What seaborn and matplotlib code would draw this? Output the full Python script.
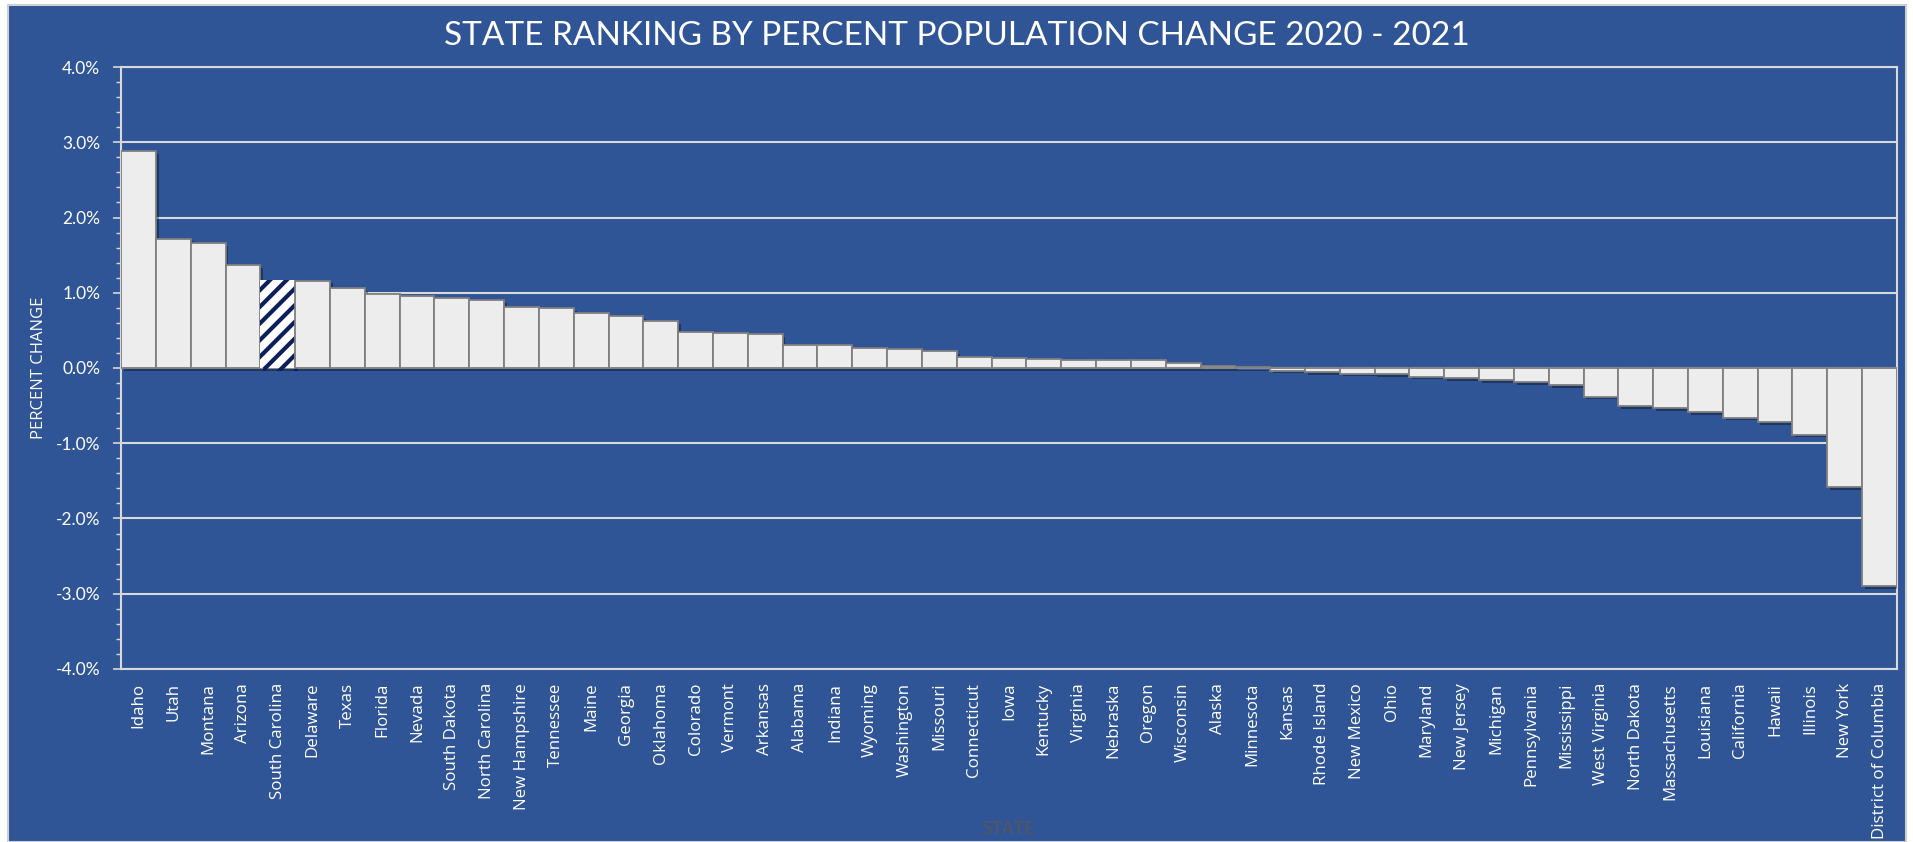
import matplotlib
matplotlib.use("Agg")
import matplotlib.pyplot as plt
import matplotlib.patheffects as pe
from matplotlib.patches import Rectangle
from matplotlib.ticker import MultipleLocator, FuncFormatter
import seaborn as sns

# data (percent change 2020 -> 2021)
states = ["Idaho", "Utah", "Montana", "Arizona", "South Carolina", "Delaware", "Texas",
          "Florida", "Nevada", "South Dakota", "North Carolina", "New Hampshire", "Tennessee",
          "Maine", "Georgia", "Oklahoma", "Colorado", "Vermont", "Arkansas", "Alabama",
          "Indiana", "Wyoming", "Washington", "Missouri", "Connecticut", "Iowa", "Kentucky",
          "Virginia", "Nebraska", "Oregon", "Wisconsin", "Alaska", "Minnesota", "Kansas",
          "Rhode Island", "New Mexico", "Ohio", "Maryland", "New Jersey", "Michigan",
          "Pennsylvania", "Mississippi", "West Virginia", "North Dakota", "Massachusetts",
          "Louisiana", "California", "Hawaii", "Illinois", "New York", "District of Columbia"]
pct_change = [2.88, 1.72, 1.66, 1.37, 1.17, 1.16, 1.06,
              0.99, 0.96, 0.93, 0.90, 0.81, 0.80,
              0.73, 0.69, 0.62, 0.48, 0.47, 0.45, 0.30,
              0.30, 0.26, 0.25, 0.22, 0.15, 0.13, 0.115,
              0.11, 0.105, 0.10, 0.06, 0.03, 0.01, -0.035,
              -0.05, -0.075, -0.085, -0.115, -0.13, -0.16,
              -0.19, -0.23, -0.38, -0.51, -0.53,
              -0.59, -0.66, -0.72, -0.885, -1.58, -2.90]
highlight = "South Carolina"

bg = "#2F5597"
bar_fill = "#EDEDED"
bar_edge = "#7F7F7F"
grid_col = "#D9D9D9"

plt.rcParams["hatch.linewidth"] = 3.0

fig = plt.figure(figsize=(19.13, 8.42), dpi=100, facecolor="white")
fig.patches.append(Rectangle((8 / 1913, 0), 1898 / 1913, 1 - 5 / 842,
                             transform=fig.transFigure, facecolor=bg,
                             edgecolor="#D0D0D0", linewidth=1.5, zorder=-10))
ax = fig.add_axes([0.0633, 0.2055, 0.9283, 0.7149])
ax.set_facecolor(bg)

sns.barplot(x=states, y=pct_change, color=bar_fill, saturation=1, width=1.0,
            edgecolor=bar_edge, linewidth=1.3, ax=ax, zorder=3)

shadow = [pe.SimplePatchShadow(offset=(2, -2), shadow_rgbFace="black", alpha=0.35), pe.Normal()]
for name, bar in zip(states, ax.patches):
    bar.set_path_effects(shadow)
    if name == highlight:
        bar.set_facecolor("white")
        bar.set_hatch("//")
        bar.set_edgecolor("#0B1F5C")
        bar.set_linewidth(0)

ax.set_ylim(-4, 4)
ax.set_xlim(-0.5, len(states) - 0.5)
ax.yaxis.set_major_locator(MultipleLocator(1))
ax.yaxis.set_minor_locator(MultipleLocator(0.2))
ax.yaxis.set_major_formatter(FuncFormatter(lambda v, _: f"{v:.1f}%"))
ax.set_axisbelow(True)
ax.grid(axis="y", which="major", color=grid_col, linewidth=1.5)
ax.grid(axis="x", visible=False)

for side in ["left", "right", "top", "bottom"]:
    ax.spines[side].set_color(grid_col)
    ax.spines[side].set_linewidth(1.5)

ax.tick_params(axis="y", which="major", length=6, width=1.2, color=grid_col,
               labelcolor="white", labelsize=12.5, pad=9)
ax.tick_params(axis="y", which="minor", length=3.5, width=1.0, color=grid_col)
ax.tick_params(axis="x", length=0, labelcolor="white", labelsize=12.2, pad=10)
for lbl in ax.get_yticklabels():
    lbl.set_family("Lato")
for lbl in ax.get_xticklabels():
    lbl.set_rotation(90)
    lbl.set_family("Open Sans")

ax.set_ylabel("PERCENT CHANGE", color="white", fontsize=12, family="Open Sans")
ax.yaxis.set_label_coords(-0.0417, 0.5)
ax.set_xlabel("STATE", color="#575757", fontsize=12.7, family="Lato")
ax.xaxis.set_label_coords(0.5, -0.2525)

fig.text(0.5, 1 - 36 / 842, "STATE RANKING BY PERCENT POPULATION CHANGE 2020 - 2021",
         ha="center", va="center", color="white", fontsize=24, family="Lato")

fig.savefig("out.png", dpi=100, facecolor=fig.get_facecolor())
